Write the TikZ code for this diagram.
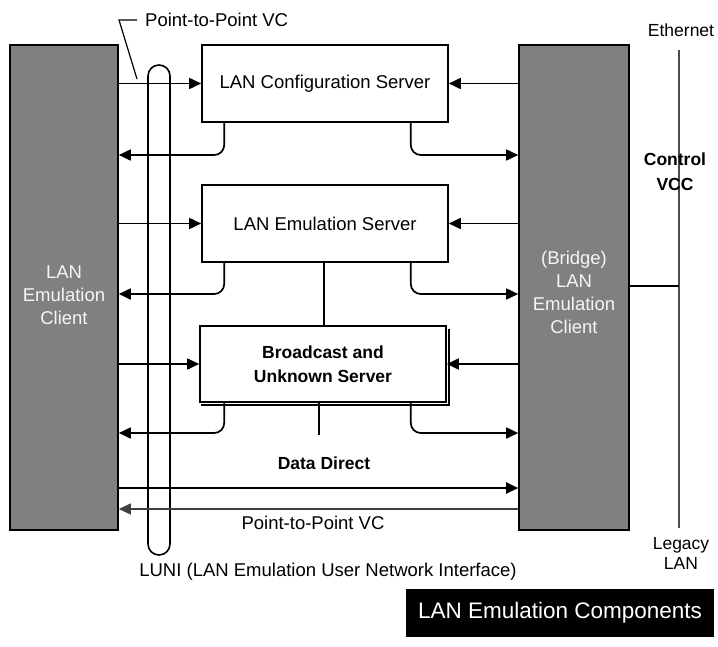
\documentclass[tikz,border=0pt]{standalone}
\usepackage{fontspec}
\setmainfont{Liberation Sans}
\usetikzlibrary{arrows.meta,calc}
\definecolor{cgray}{HTML}{808080}
\begin{document}
\begin{tikzpicture}[x=1pt,y=-1pt,
  box/.style={draw=black,line width=1.6pt,fill=white,inner sep=0pt,font=\fontsize{18.5}{22}\selectfont},
  client/.style={draw=black,line width=1.6pt,fill=cgray,inner sep=0pt},
  ctext/.style={inner sep=0pt,text=gray!8,align=center,font=\fontsize{18.5}{23}\selectfont},
  arr/.style={-{Triangle[length=12pt,width=11pt]},line width=1.7pt},
  ret/.style={arr,rounded corners=10pt},
  lbl/.style={inner sep=0pt,font=\fontsize{18.5}{21}\selectfont},
  blbl/.style={inner sep=0pt,font=\fontsize{17.5}{25}\bfseries\selectfont,align=center}]
\useasboundingbox (0,0) rectangle (718,646);
% clients
\node[client,minimum width=108pt,minimum height=485pt] (lec) at (64,287.5) {};
\node[ctext] (lect) at (64,295) {LAN\\Emulation\\Client};
\node[client,minimum width=110pt,minimum height=485pt] (blec) at (574,287.5) {};
\node[ctext] (blect) at (574,292) {(Bridge)\\LAN\\Emulation\\Client};
% servers
\node[box,minimum width=246pt,minimum height=77pt] (lcs) at (325,83.5) {LAN Configuration Server};
\node[box,minimum width=246pt,minimum height=77pt] (les) at (325,223.5) {LAN Emulation Server};
\draw[line width=1.2pt] (201,405) -- (449,405) -- (449,329);
\node[box,minimum width=246pt,minimum height=76pt,font=\fontsize{17.5}{24}\bfseries\selectfont,align=center] (bus) at (323,364) {Broadcast and\\Unknown Server};
% LUNI oval
\node[draw=black,line width=1.6pt,rounded corners=11pt,minimum width=22pt,minimum height=490pt,inner sep=0pt] (luni) at (159,310) {};
% links between servers
\draw[line width=1.7pt] (les.south -| 324,0) -- (bus.north -| 324,0);
\coordinate (dd) at (319,435);
\draw[line width=1.7pt] (bus.south -| dd) -- (dd);
% row coordinates
\coordinate (r1) at (0,155);
\coordinate (r2) at (0,294);
\coordinate (r3) at (0,433);
% row 1
\draw[arr] (lec.east |- lcs.west) -- (lcs.west);
\draw[arr] (blec.west |- lcs.east) -- (lcs.east);
\draw[ret] ([xshift=23pt]lcs.south west) |- (lec.east |- r1);
\draw[ret] ([xshift=-38pt]lcs.south east) |- (blec.west |- r1);
% row 2
\draw[arr] (lec.east |- les.west) -- (les.west);
\draw[arr] (blec.west |- les.east) -- (les.east);
\draw[ret] ([xshift=23pt]les.south west) |- (lec.east |- r2);
\draw[ret] ([xshift=-38pt]les.south east) |- (blec.west |- r2);
% row 3
\draw[arr] (lec.east |- bus.west) -- (bus.west);
\draw[arr] (blec.west |- bus.east) -- (bus.east);
\draw[ret] ([xshift=25pt]bus.south west) |- (lec.east |- r3);
\draw[ret] ([xshift=-36pt]bus.south east) |- (blec.west |- r3);
% data direct
\coordinate (d1) at (0,488);
\coordinate (d2) at (0,509);
\draw[arr,line width=2.4pt] (lec.east |- d1) -- (blec.west |- d1);
\draw[arr,line width=1.3pt,draw=black!75] (blec.west |- d2) -- (lec.east |- d2);
\node[blbl] (ddl) at (324,463) {Data Direct};
\node[lbl] (p2pb) at (313,523) {Point-to-Point VC};
% top label
\node[lbl,anchor=west] (p2pt) at (145,20) {Point-to-Point VC};
\coordinate (lead) at (137,79);
\draw[line width=1.2pt] ([xshift=-8pt]p2pt.west) -- ++(-18,0) -- (lead);
% ethernet
\node[lbl,font=\fontsize{17.5}{20}\selectfont] (eth) at (681,30) {Ethernet};
\node[lbl,font=\fontsize{17.5}{20}\selectfont,align=center] (leg) at (681,553) {Legacy\\LAN};
\coordinate (et) at (679,50);
\coordinate (eb) at (679,528);
\draw[line width=1.1pt,draw=black!70] (et) -- (eb);
\draw[line width=1.7pt] (blec.east |- 0,286) -- (et |- 0,286);
\node[blbl] (cvcc) at (675,172) {Control\\VCC};
% LUNI label
\node[lbl] (lunil) at (328,572) {LUNI (LAN Emulation User Network Interface)};
% title
\node[fill=black,text=white,minimum width=308pt,minimum height=48pt,inner sep=0pt,font=\fontsize{22.5}{26}\selectfont] (title) at (560,613) {LAN Emulation Components};
\end{tikzpicture}
\end{document}
